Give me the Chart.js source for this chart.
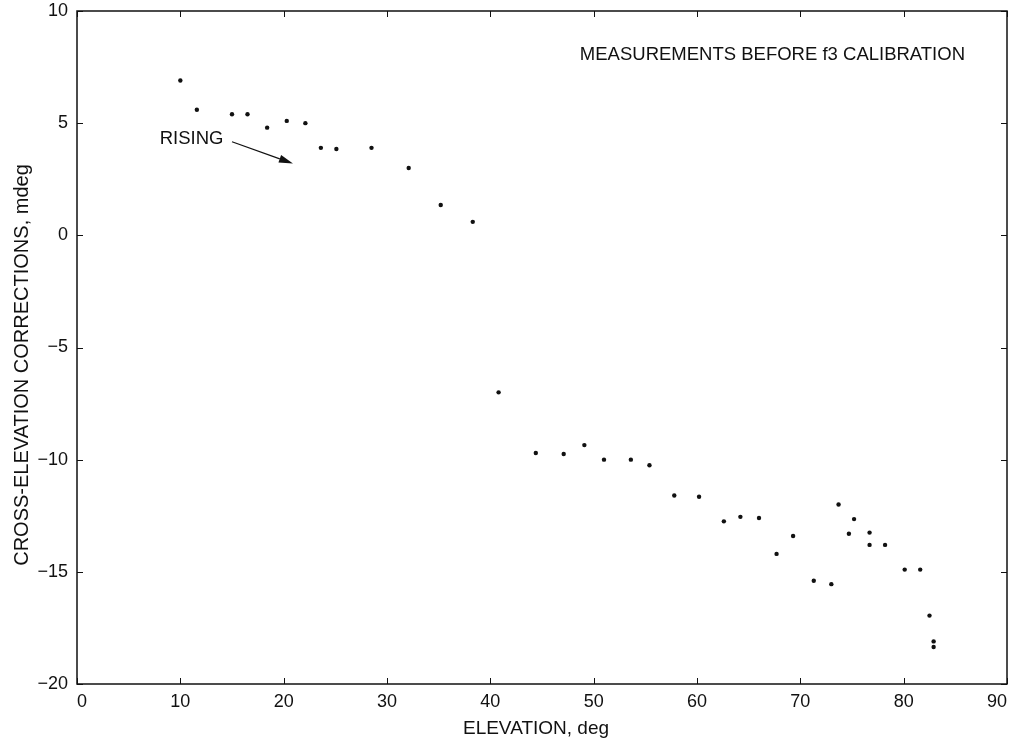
<!DOCTYPE html>
<html>
<head>
<meta charset="utf-8">
<script src="https://cdn.jsdelivr.net/npm/chart.js@4.4.1/dist/chart.umd.min.js"></script>
<style>
  html,body{margin:0;padding:0;background:#fff;}
  canvas{display:block;}
</style>
</head>
<body>
<canvas id="mychart" width="1013" height="742"></canvas>
<script>
// elevation (deg) and cross-elevation correction (mdeg)
const elevation=[10.0,11.6,15.0,16.5,18.4,20.3,22.1,23.6,25.1,28.5,32.1,35.2,38.3,
  40.8,44.4,47.1,49.1,51.0,53.6,55.4,57.8,60.2,62.6,64.2,66.0,67.7,69.3,
  71.3,73.0,73.7,74.7,75.2,76.7,76.7,78.2,80.1,81.6,82.5,82.9,82.9];
const correction=[6.9,5.6,5.4,5.4,4.8,5.1,5.0,3.9,3.85,3.9,3.0,1.35,0.6,
  -7.0,-9.7,-9.75,-9.35,-10.0,-10.0,-10.25,-11.6,-11.65,-12.75,-12.55,-12.6,-14.2,-13.4,
  -15.4,-15.55,-12.0,-13.3,-12.65,-13.25,-13.8,-13.8,-14.9,-14.9,-16.95,-18.1,-18.35];

const xTicks=[0,10,20,30,40,50,60,70,80,90];
const yTicks=[-20,-15,-10,-5,0,5,10];

const xTitle='ELEVATION, deg';
const yTitle='CROSS-ELEVATION CORRECTIONS, mdeg';
const noteText='MEASUREMENTS BEFORE f3 CALIBRATION';
const notePos={x:67.3,y:8.05};
const risingLabel='RISING';
const risingPos={x:8.0,y:4.29};
const arrowFrom={x:15.0,y:4.17};
const arrowTo={x:20.9,y:3.2};

const FONT="'Liberation Sans', Arial, Helvetica, sans-serif";
const INK='#111';

const framePlugin={
  id:'frame',
  afterDraw(chart){
    const {ctx,chartArea:a,scales:{x,y}}=chart;
    ctx.save();
    ctx.strokeStyle=INK;
    ctx.lineWidth=1.5;
    ctx.strokeRect(a.left,a.top,a.right-a.left,a.bottom-a.top);
    ctx.lineWidth=1;
    const tl=6;
    ctx.beginPath();
    xTicks.forEach(v=>{
      const px=Math.round(x.getPixelForValue(v))+0.5;
      ctx.moveTo(px,a.bottom);ctx.lineTo(px,a.bottom-tl);
      ctx.moveTo(px,a.top);ctx.lineTo(px,a.top+tl);
    });
    yTicks.forEach(v=>{
      const py=Math.round(y.getPixelForValue(v))+0.5;
      ctx.moveTo(a.left,py);ctx.lineTo(a.left+tl,py);
      ctx.moveTo(a.right,py);ctx.lineTo(a.right-tl,py);
    });
    ctx.stroke();

    // axis titles
    ctx.fillStyle=INK;
    ctx.textAlign='center';
    ctx.textBaseline='middle';
    ctx.font='19px '+FONT;
    ctx.fillText(xTitle,536,729);
    ctx.save();
    ctx.translate(22,365);
    ctx.rotate(-Math.PI/2);
    ctx.font='20px '+FONT;
    ctx.fillText(yTitle,0,0);
    ctx.restore();

    // annotations
    ctx.font='18.5px '+FONT;
    ctx.fillText(noteText,x.getPixelForValue(notePos.x),y.getPixelForValue(notePos.y));
    ctx.textAlign='left';
    ctx.fillText(risingLabel,x.getPixelForValue(risingPos.x),y.getPixelForValue(risingPos.y));

    const x0=x.getPixelForValue(arrowFrom.x),y0=y.getPixelForValue(arrowFrom.y);
    const x1=x.getPixelForValue(arrowTo.x),y1=y.getPixelForValue(arrowTo.y);
    const ang=Math.atan2(y1-y0,x1-x0);
    const hl=14,hw=4;
    ctx.beginPath();
    ctx.moveTo(x0,y0);
    ctx.lineTo(x1-hl*Math.cos(ang),y1-hl*Math.sin(ang));
    ctx.lineWidth=1.2;
    ctx.stroke();
    ctx.beginPath();
    ctx.moveTo(x1,y1);
    ctx.lineTo(x1-hl*Math.cos(ang)+hw*Math.sin(ang),y1-hl*Math.sin(ang)-hw*Math.cos(ang));
    ctx.lineTo(x1-hl*Math.cos(ang)-hw*Math.sin(ang),y1-hl*Math.sin(ang)+hw*Math.cos(ang));
    ctx.closePath();
    ctx.fill();
    ctx.restore();
  }
};

const ctx=document.getElementById('mychart').getContext('2d');
let mychart=new Chart(ctx,{
  type:'scatter',
  data:{
    datasets:[{
      data:elevation.map((v,i)=>({x:v,y:correction[i]})),
      pointRadius:2.2,
      pointHoverRadius:2.2,
      backgroundColor:INK,
      borderWidth:0
    }]
  },
  options:{
    responsive:false,
    animation:false,
    layout:{padding:{top:11,right:6,left:0,bottom:0}},
    plugins:{legend:{display:false},tooltip:{enabled:false}},
    scales:{
      x:{
        type:'linear',min:0,max:90,
        afterBuildTicks:s=>{s.ticks=xTicks.map(v=>({value:v}));},
        afterFit:s=>{s.height=58;s.paddingLeft=0;s.paddingRight=0;},
        grid:{display:false,drawTicks:false},
        border:{display:false},
        ticks:{color:INK,padding:7,maxRotation:0,align:'inner',font:{family:FONT,size:18}}
      },
      y:{
        type:'linear',min:-20,max:10,
        afterBuildTicks:s=>{s.ticks=yTicks.map(v=>({value:v}));},
        afterFit:s=>{s.width=77;s.paddingTop=0;s.paddingBottom=0;},
        grid:{display:false,drawTicks:false},
        border:{display:false},
        ticks:{color:INK,padding:9,font:{family:FONT,size:18},
          callback:v=>String(v).replace('-','\u2212')}
      }
    }
  },
  plugins:[framePlugin]
});
</script>
</body>
</html>
